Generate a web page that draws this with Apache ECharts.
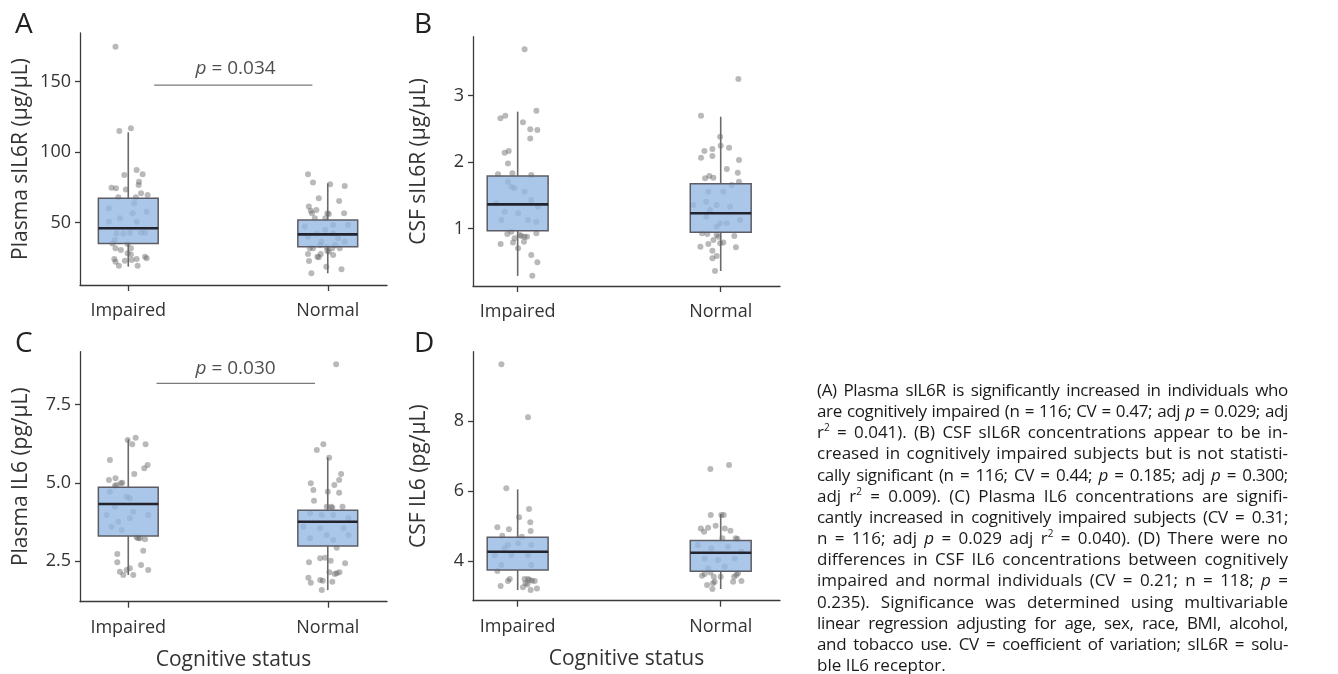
<!DOCTYPE html>
<html>
<head>
<meta charset="utf-8">
<script src="https://cdn.jsdelivr.net/npm/echarts@6/dist/echarts.min.js"></script>
<style>
  html, body { margin: 0; padding: 0; background: #fff; }
  #chart { position: absolute; left: 0; top: 0; width: 1338px; height: 674px; }
  #caption {
    position: absolute; left: 817px; top: 379px; width: 471px;
    font-family: 'Open Sans', sans-serif; font-size: 17px; line-height: 21.15px; color: #1a1a1a;
  }
  #caption div { white-space: nowrap; text-align: justify; text-align-last: justify; }
  #caption div.tight { letter-spacing: -0.35px; word-spacing: -1px; }
  #caption div.last { text-align-last: left; }
  #caption sup { font-size: 10px; line-height: 0; }
</style>
</head>
<body>
<div id="chart"></div>
<div id="caption">
  <div class="tight">(A) Plasma sIL6R is significantly increased in individuals who</div>
  <div class="tight">are cognitively impaired (n = 116; CV = 0.47; adj <i>p</i> = 0.029; adj</div>
  <div>r<sup>2</sup> = 0.041). (B) CSF sIL6R concentrations appear to be in-</div>
  <div>creased in cognitively impaired subjects but is not statisti-</div>
  <div class="tight">cally significant (n = 116; CV = 0.44; <i>p</i> = 0.185; adj <i>p</i> = 0.300;</div>
  <div>adj r<sup>2</sup> = 0.009). (C) Plasma IL6 concentrations are signifi-</div>
  <div class="tight">cantly increased in cognitively impaired subjects (CV = 0.31;</div>
  <div>n = 116; adj <i>p</i> = 0.029 adj r<sup>2</sup> = 0.040). (D) There were no</div>
  <div>differences in CSF IL6 concentrations between cognitively</div>
  <div>impaired and normal individuals (CV = 0.21; n = 118; <i>p</i> =</div>
  <div>0.235). Significance was determined using multivariable</div>
  <div class="tight">linear regression adjusting for age, sex, race, BMI, alcohol,</div>
  <div class="tight">and tobacco use. CV = coefficient of variation; sIL6R = solu-</div>
  <div class="last">ble IL6 receptor.</div>
</div>
<script>
// categories on the x axis (positions 1 and 2)
const categories = ['Impaired', 'Normal'];

// y tick labels per panel
const ticksA = [50, 100, 150];
const ticksB = [1, 2, 3];
const ticksC = [2.5, 5.0, 7.5];
const ticksD = [4, 6, 8];

// box stats: [position, lower whisker, Q1, median, Q3, upper whisker]
const boxesA = [[1, 18.8, 35.3, 46.0, 67.3, 114.1], [2, 14.1, 33.0, 41.7, 51.9, 77.9]];
const boxesB = [[1, 0.29, 0.97, 1.366, 1.792, 2.76], [2, 0.363, 0.945, 1.231, 1.677, 2.684]];
const boxesC = [[1, 2.064, 3.309, 4.33, 4.862, 6.394], [2, 1.585, 2.989, 3.766, 4.128, 5.819]];
const boxesD = [[1, 3.171, 3.743, 4.267, 4.676, 6.048], [2, 3.2, 3.705, 4.238, 4.59, 5.343]];

// jittered points: [offset from category, value]
const plasmaSil6rImpaired = [
  [-0.064, 174.8], [-0.045, 115.0], [0.013, 116.9], [0.042, 87.4], [-0.020, 83.8], [0.072, 84.3],
  [0.054, 79.1], [0.052, 76.7], [-0.084, 74.8], [-0.062, 74.4], [-0.012, 73.6], [0.064, 70.8],
  [0.097, 69.6], [-0.050, 68.0], [0.038, 68.0], [-0.097, 60.2], [0.030, 63.7], [0.022, 56.6],
  [-0.097, 50.7], [0.042, 50.7], [-0.059, 42.4], [-0.025, 42.4], [0.008, 42.9], [0.064, 42.9],
  [0.084, 42.9], [-0.042, 53.1], [0.092, 57.8], [-0.067, 37.7], [-0.079, 35.3], [-0.003, 34.9],
  [-0.064, 31.8], [-0.037, 30.6], [0.013, 31.8], [-0.003, 28.3], [-0.070, 24.3], [-0.064, 22.3],
  [-0.017, 23.0], [0.017, 23.5], [0.042, 24.3], [0.084, 25.9], [0.092, 24.7], [-0.047, 19.5],
  [0.047, 19.5], [0.013, 27.5]
];
const plasmaSil6rNormal = [
  [-0.099, 84.3], [-0.074, 78.4], [0.012, 77.2], [0.085, 76.0], [-0.045, 67.3], [0.057, 65.4],
  [-0.095, 61.4], [-0.085, 58.5], [-0.079, 56.6], [-0.057, 59.0], [-0.002, 56.6], [0.005, 56.1],
  [0.082, 56.6], [-0.065, 53.1], [-0.012, 53.1], [-0.115, 47.2], [0.027, 48.3], [0.102, 48.3],
  [-0.099, 40.1], [0.052, 38.9], [-0.032, 36.5], [0.085, 36.5], [-0.055, 42.4], [0.028, 42.4],
  [-0.013, 44.8], [-0.090, 31.8], [-0.074, 31.8], [-0.005, 32.5], [0.023, 31.8], [0.060, 31.8],
  [-0.099, 27.8], [-0.035, 27.8], [-0.045, 25.4], [-0.052, 25.9], [-0.002, 30.1], [0.005, 29.4],
  [0.027, 27.1], [-0.094, 22.8], [-0.007, 18.8], [0.069, 16.9], [-0.082, 14.1], [0.037, 34.2],
  [-0.038, 34.2]
];
const csfSil6rImpaired = [
  [0.034, 3.697], [-0.085, 2.659], [-0.061, 2.699], [0.092, 2.774], [0.026, 2.599], [0.062, 2.494],
  [0.097, 2.484], [0.062, 2.358], [-0.064, 2.143], [-0.044, 2.168], [-0.048, 1.982], [-0.097, 1.817],
  [-0.026, 1.832], [0.067, 1.807], [-0.048, 1.707], [-0.015, 1.607], [-0.031, 1.632], [0.034, 1.556],
  [-0.105, 1.381], [-0.064, 1.256], [-0.080, 1.130], [0.051, 1.130], [0.092, 1.105], [0.100, 1.331],
  [0.002, 1.231], [0.067, 1.431], [0.092, 0.930], [-0.051, 0.920], [0.010, 0.905], [0.018, 0.890],
  [0.034, 0.880], [0.046, 0.880], [-0.015, 0.855], [-0.023, 0.794], [-0.084, 0.769], [0.031, 0.805],
  [0.002, 0.704], [0.067, 0.604], [0.097, 0.494], [0.072, 0.293], [-0.031, 0.955]
];
const csfSil6rNormal = [
  [0.087, 3.251], [-0.097, 2.699], [-0.003, 2.383], [0.000, 2.248], [0.041, 2.218], [-0.080, 2.168],
  [-0.041, 2.198], [-0.097, 2.068], [-0.041, 2.093], [0.090, 2.033], [0.030, 1.897], [0.084, 1.842],
  [0.090, 1.707], [-0.077, 1.757], [-0.056, 1.792], [-0.036, 1.767], [-0.061, 1.556], [0.013, 1.556],
  [0.054, 1.657], [-0.071, 1.406], [-0.020, 1.356], [-0.135, 1.356], [0.046, 1.331], [-0.071, 1.180],
  [0.095, 1.130], [-0.003, 1.080], [0.030, 1.080], [-0.020, 1.030], [-0.053, 1.281], [-0.066, 0.920],
  [-0.020, 0.905], [-0.011, 0.880], [0.067, 0.890], [-0.036, 0.830], [-0.061, 0.769], [-0.003, 0.779],
  [0.013, 0.794], [0.075, 0.719], [-0.041, 0.669], [-0.020, 0.589], [-0.041, 0.554], [-0.028, 0.363],
  [-0.100, 0.729], [-0.092, 0.930]
];
const plasmaIl6Impaired = [
  [-0.003, 6.372], [0.037, 6.447], [0.020, 6.234], [0.087, 6.234], [-0.092, 5.734], [0.097, 5.574],
  [0.080, 5.468], [0.030, 5.287], [-0.097, 5.096], [-0.064, 5.149], [-0.030, 5.011], [-0.037, 4.989],
  [-0.067, 4.904], [-0.059, 4.936], [-0.092, 4.723], [0.008, 4.511], [-0.008, 4.564], [-0.067, 4.245],
  [-0.109, 3.979], [0.025, 4.085], [-0.050, 3.766], [0.008, 3.872], [-0.084, 3.606], [0.100, 3.979],
  [-0.033, 3.500], [0.042, 3.266], [0.050, 3.234], [0.059, 3.234], [0.084, 3.202], [0.075, 2.840],
  [-0.055, 2.734], [-0.055, 2.468], [0.064, 2.383], [0.008, 2.277], [-0.042, 2.170], [-0.025, 2.064],
  [0.025, 2.064], [0.100, 2.223], [-0.008, 2.223]
];
const plasmaIl6Normal = [
  [0.042, 8.787], [-0.055, 6.053], [-0.022, 6.234], [0.007, 5.809], [0.067, 5.287], [0.057, 5.096],
  [-0.085, 4.989], [0.033, 4.936], [-0.072, 4.777], [0.000, 4.723], [0.057, 4.691], [-0.069, 4.436],
  [-0.005, 4.245], [0.017, 4.245], [0.023, 4.213], [0.074, 4.245], [-0.089, 4.032], [-0.030, 3.979],
  [0.028, 3.979], [0.104, 3.872], [-0.122, 3.606], [-0.038, 3.553], [0.079, 3.553], [-0.005, 3.340],
  [-0.089, 3.234], [0.104, 3.340], [0.028, 3.181], [0.045, 2.936], [-0.038, 2.596], [-0.013, 2.617],
  [0.015, 2.521], [-0.094, 2.468], [0.087, 2.436], [0.059, 2.149], [0.045, 2.117], [0.008, 2.149],
  [-0.097, 1.979], [-0.085, 1.819], [-0.038, 1.904], [-0.025, 1.883], [0.023, 1.851], [-0.030, 1.585],
  [0.035, 2.096]
];
const csfIl6Impaired = [
  [-0.080, 9.619], [0.051, 8.105], [-0.056, 6.076], [0.056, 5.486], [0.007, 5.248], [0.062, 5.105],
  [-0.100, 4.962], [-0.043, 4.905], [0.064, 4.857], [-0.076, 4.724], [0.021, 4.695], [-0.048, 4.457],
  [-0.064, 4.362], [0.002, 4.505], [0.067, 4.457], [-0.113, 4.171], [-0.031, 4.171], [0.051, 4.171],
  [-0.080, 3.886], [0.067, 3.886], [-0.100, 3.714], [-0.039, 3.486], [-0.048, 3.429], [0.034, 3.486],
  [0.051, 3.486], [0.059, 3.457], [0.071, 3.438], [0.084, 3.429], [0.039, 3.362], [0.048, 3.333],
  [-0.084, 3.286], [0.026, 3.248], [0.064, 3.171], [0.095, 3.219]
];
const csfIl6Normal = [
  [-0.051, 6.629], [0.041, 6.743], [-0.049, 5.314], [0.003, 5.314], [0.015, 5.314], [-0.098, 4.933],
  [-0.082, 4.838], [-0.062, 4.952], [-0.025, 5.010], [0.020, 4.933], [0.048, 4.867], [0.008, 4.648],
  [0.074, 4.648], [0.082, 4.629], [-0.112, 4.457], [-0.046, 4.362], [0.036, 4.410], [0.102, 4.267],
  [-0.079, 4.076], [-0.013, 4.029], [0.069, 4.076], [-0.062, 3.790], [0.020, 3.838], [-0.092, 3.581],
  [-0.079, 3.629], [-0.051, 3.676], [-0.034, 3.552], [0.066, 3.552], [0.077, 3.600], [0.085, 3.648],
  [-0.030, 3.410], [-0.038, 3.362], [-0.067, 3.314], [0.061, 3.410], [0.102, 3.429], [-0.041, 3.200],
  [0.000, 3.552]
];

// significance brackets: x span and y level, label
const sigA = { x: [1.13, 1.923], y: 147.6, labelX: 1.538, labelY: 159.5, p: '0.034' };
const sigC = { x: [1.142, 1.936], y: 8.18, labelX: 1.538, labelY: 8.66, p: '0.030' };

const FONT = "'Open Sans', 'Noto Sans', sans-serif";
const AXIS_COLOR = '#3a3a3a';

const panels = [
  { letter: 'A', grid: { left: 80, top: 33, width: 307, height: 252 }, x: [0.758, 2.297], y: [5.8, 184.5],
    ticks: ticksA, yName: 'Plasma sIL6R (μg/μL)', nameGap: 48, boxes: boxesA,
    pts: [plasmaSil6rImpaired, plasmaSil6rNormal], sig: sigA, xName: '', fmt: v => String(v) },
  { letter: 'B', grid: { left: 473, top: 36.7, width: 307, height: 249.3 }, x: [0.78, 2.292], y: [0.138, 3.887],
    ticks: ticksB, yName: 'CSF sIL6R (μg/μL)', nameGap: 43, boxes: boxesB,
    pts: [csfSil6rImpaired, csfSil6rNormal], sig: null, xName: '', fmt: v => String(v) },
  { letter: 'C', grid: { left: 80, top: 351.7, width: 307, height: 250 }, x: [0.758, 2.297], y: [1.213, 9.19],
    ticks: ticksC, yName: 'Plasma IL6 (pg/μL)', nameGap: 48, boxes: boxesC,
    pts: [plasmaIl6Impaired, plasmaIl6Normal], sig: sigC, xName: 'Cognitive status', fmt: v => v.toFixed(1) },
  { letter: 'D', grid: { left: 473, top: 351.7, width: 307, height: 249 }, x: [0.78, 2.292], y: [2.867, 9.98],
    ticks: ticksD, yName: 'CSF IL6 (pg/μL)', nameGap: 43, boxes: boxesD,
    pts: [csfIl6Impaired, csfIl6Normal], sig: null, xName: 'Cognitive status', fmt: v => String(v) }
];

function renderBox(params, api) {
  const x = api.value(0);
  const lo = api.coord([x, api.value(1)]);
  const q1 = api.coord([x, api.value(2)]);
  const med = api.coord([x, api.value(3)]);
  const q3 = api.coord([x, api.value(4)]);
  const hi = api.coord([x, api.value(5)]);
  const left = api.coord([x - 0.15, api.value(3)])[0];
  const right = api.coord([x + 0.15, api.value(3)])[0];
  const whisker = { stroke: '#6a6a6a', lineWidth: 1.6 };
  return {
    type: 'group',
    children: [
      { type: 'line', shape: { x1: lo[0], y1: lo[1], x2: q1[0], y2: q1[1] }, style: whisker },
      { type: 'line', shape: { x1: q3[0], y1: q3[1], x2: hi[0], y2: hi[1] }, style: whisker },
      { type: 'rect', shape: { x: left, y: q3[1], width: right - left, height: q1[1] - q3[1] },
        style: { fill: 'rgba(146,183,228,0.78)', stroke: '#5c5c64', lineWidth: 1.5 } },
      { type: 'line', shape: { x1: left, y1: med[1], x2: right, y2: med[1] },
        style: { stroke: '#23232e', lineWidth: 2.6 } }
    ]
  };
}

const grid = [], xAxis = [], yAxis = [], series = [], title = [];

panels.forEach((p, i) => {
  grid.push(p.grid);
  title.push({
    text: p.letter, left: p.grid.left < 200 ? 10 : 409, top: i < 2 ? 6 : 325,
    textStyle: { fontFamily: FONT, fontSize: 28, fontWeight: 'normal', color: '#222' }
  });
  xAxis.push({
    type: 'value', gridIndex: i, min: p.x[0], max: p.x[1],
    name: p.xName, nameLocation: 'middle', nameGap: 48,
    nameTextStyle: { fontFamily: FONT, fontSize: 21, color: '#333' },
    axisLine: { lineStyle: { color: AXIS_COLOR, width: 1.3 } },
    axisTick: { customValues: [1, 2], length: 6, lineStyle: { color: AXIS_COLOR, width: 1.3 } },
    axisLabel: { customValues: [1, 2], formatter: v => categories[Math.round(v) - 1], margin: 17,
      fontFamily: FONT, fontSize: 18, color: '#333' },
    splitLine: { show: false }
  });
  yAxis.push({
    type: 'value', gridIndex: i, min: p.y[0], max: p.y[1],
    name: p.yName, nameLocation: 'middle', nameGap: p.nameGap,
    nameTextStyle: { fontFamily: FONT, fontSize: 21, color: '#333' },
    axisLine: { show: true, lineStyle: { color: AXIS_COLOR, width: 1.3 } },
    axisTick: { show: true, customValues: p.ticks, length: 5, lineStyle: { color: AXIS_COLOR, width: 1.3 } },
    axisLabel: { customValues: p.ticks, formatter: p.fmt, margin: 9,
      fontFamily: FONT, fontSize: 18, color: '#333' },
    splitLine: { show: false }
  });
  p.pts.forEach((group, g) => {
    series.push({
      type: 'scatter', xAxisIndex: i, yAxisIndex: i, z: 2,
      symbolSize: 6, silent: true,
      itemStyle: { color: 'rgba(95,95,95,0.55)' },
      data: group.map(d => [g + 1 + d[0], d[1]])
    });
  });
  series.push({
    type: 'custom', xAxisIndex: i, yAxisIndex: i, z: 3, silent: true,
    renderItem: renderBox, data: p.boxes
  });
  if (p.sig) {
    series.push({
      type: 'line', xAxisIndex: i, yAxisIndex: i, z: 3, silent: true,
      showSymbol: false, lineStyle: { color: '#7a7a7a', width: 1.3 },
      data: p.sig.x.map(v => [v, p.sig.y])
    });
    series.push({
      type: 'scatter', xAxisIndex: i, yAxisIndex: i, z: 4, silent: true,
      symbolSize: 0,
      label: {
        show: true, position: 'inside',
        formatter: '{i|p} = ' + p.sig.p,
        fontFamily: FONT, fontSize: 19, color: '#222',
        rich: { i: { fontFamily: FONT, fontSize: 19, fontStyle: 'italic', color: '#222' } }
      },
      data: [[p.sig.labelX, p.sig.labelY]]
    });
  }
});

const chart = echarts.init(document.getElementById('chart'), null, { renderer: 'canvas' });
chart.setOption({
  animation: false,
  backgroundColor: '#fff',
  title, grid, xAxis, yAxis, series
});
</script>
</body>
</html>
